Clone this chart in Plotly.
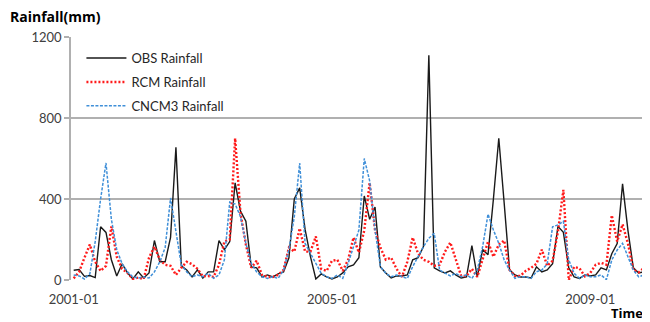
import plotly.graph_objects as go

months = [f"{y}-{m:02d}" for y in range(2001, 2010) for m in range(1, 13)]

obs_rainfall = [48, 52, 18, 22, 12, 263, 235, 100, 20, 80, 35, 5,
                40, 10, 35, 195, 90, 90, 210, 655, 70, 50, 15, 50,
                10, 40, 40, 195, 150, 190, 480, 340, 290, 65, 60, 15,
                25, 15, 30, 40, 110, 400, 455, 250, 115, 5, 30, 15,
                5, 15, 35, 65, 75, 110, 415, 300, 360, 65, 35, 10,
                20, 20, 25, 100, 110, 165, 1110, 60, 45, 35, 45, 25,
                10, 15, 170, 15, 150, 125, 400, 700, 380, 50, 25, 15,
                15, 10, 65, 40, 50, 80, 265, 235, 60, 15, 8, 25,
                20, 25, 60, 50, 130, 180, 475, 245, 60, 35, 40, 30]

rcm_rainfall = [8, 40, 110, 175, 90, 45, 70, 265, 115, 55, 35, 5,
                12, 5, 110, 165, 100, 75, 70, 25, 60, 90, 78, 55,
                18, 20, 15, 75, 190, 200, 700, 330, 175, 60, 95, 25,
                15, 15, 25, 50, 160, 140, 255, 140, 140, 215, 55, 45,
                95, 100, 45, 100, 210, 135, 245, 480, 245, 160, 100, 110,
                55, 15, 90, 210, 130, 100, 90, 70, 75, 140, 185, 105,
                20, 20, 55, 15, 100, 190, 115, 175, 195, 50, 20, 20,
                45, 60, 80, 150, 70, 95, 240, 445, 0, 65, 58, 18,
                35, 75, 85, 75, 320, 190, 275, 180, 50, 38, 60, 100]

cncm3_rainfall = [25, 20, 5, 30, 190, 400, 578, 300, 150, 80, 40, 15,
                  10, 15, 10, 40, 90, 160, 405, 240, 75, 40, 16, 25,
                  16, 33, 8, 25, 99, 385, 375, 313, 181, 82, 40, 16,
                  8, 16, 8, 49, 150, 313, 578, 181, 132, 82, 33, 16,
                  8, 25, 8, 82, 160, 247, 600, 490, 247, 66, 33, 16,
                  25, 16, 8, 66, 115, 165, 206, 230, 49, 33, 20, 33,
                  16, 25, 8, 49, 165, 325, 247, 181, 99, 49, 8, 16,
                  16, 8, 41, 49, 80, 263, 272, 290, 99, 33, 8, 25,
                  16, 16, 25, 2, 99, 148, 181, 115, 49, 16, 25, 8]

x_tick_labels = ["2001-01", "2005-01", "2009-01"]
y_tick_values = [0, 400, 800, 1200]

idx = list(range(len(months)))
tick_pos = [months.index(t) for t in x_tick_labels]

FONT = "Lato, 'Open Sans', sans-serif"

# the page body has an 8px margin, so the figure is drawn 8px smaller
W, H = 642, 314
L, R, T, B = 63, 0, 29, 42

fig = go.Figure()
fig.add_trace(go.Scatter(x=idx, y=obs_rainfall, mode="lines", name="OBS Rainfall",
                         line=dict(color="#1a1a1a", width=1.4), legendgroup="a"))
fig.add_trace(go.Scatter(x=idx, y=rcm_rainfall, mode="lines", name="RCM Rainfall",
                         line=dict(color="#ff1a1a", width=2.4, dash="2px,2px"), legendgroup="b"))
fig.add_trace(go.Scatter(x=idx, y=cncm3_rainfall, mode="lines", name="CNCM3 Rainfall",
                         line=dict(color="#3f8fd8", width=1.5, dash="3px,1.5px"), legendgroup="c"))

pw, ph = W - L - R, H - T - B

fig.update_layout(
    width=W, height=H,
    margin=dict(l=L, r=R, t=T, b=B),
    paper_bgcolor="white", plot_bgcolor="white",
    font=dict(family=FONT, size=13, color="#404040"),
    showlegend=True,
    legend=dict(x=0.018, y=0.975, xanchor="left", yanchor="top",
                bgcolor="rgba(0,0,0,0)", font=dict(size=13, color="#262626"),
                tracegroupgap=4, itemwidth=40),
    xaxis=dict(range=[-0.5, 107.1], tickmode="array", tickvals=tick_pos,
               ticktext=x_tick_labels, showgrid=False, zeroline=False,
               showline=False, ticks="", ticklabelstandoff=10,
               tickfont=dict(size=13, color="#404040")),
    yaxis=dict(range=[0, 1200], tickmode="array", tickvals=y_tick_values,
               showgrid=True, gridcolor="#b0b0b0", gridwidth=1.5,
               zeroline=False, showline=True, linecolor="#b0b0b0", linewidth=1.5,
               ticks="outside", ticklen=5, tickcolor="#b0b0b0", tickwidth=1.5,
               tickfont=dict(size=13, color="#404040")),
    annotations=[
        dict(text="<b>Rainfall(mm)</b>", x=(0 - L) / pw, y=(H - B - 9) / ph,
             xref="paper", yref="paper", showarrow=False,
             font=dict(family="'Open Sans', sans-serif", size=14, color="#000000"),
             xanchor="left", yanchor="middle"),
        dict(text="<b>Time</b>", x=(637 - L) / pw, y=(H - B - 305) / ph,
             xref="paper", yref="paper", showarrow=False,
             font=dict(family="'Open Sans', sans-serif", size=13, color="#000000"),
             xanchor="right", yanchor="middle"),
    ],
)

fig.write_html("out.html")
